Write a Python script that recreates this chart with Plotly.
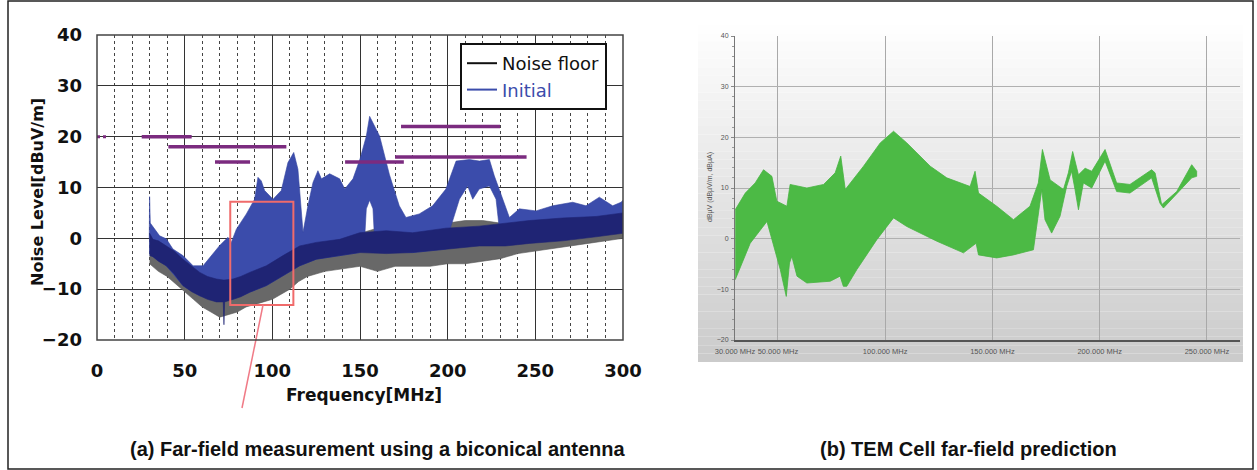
import plotly.graph_objects as go

# Noise floor (gray) envelope
NF_FREQ = [30, 35, 40, 45, 50, 55, 60, 65, 70, 75, 80, 85, 90, 95, 100, 105, 110, 115, 120,
           130, 140, 150, 160, 170, 180, 190, 200, 210, 220, 230, 240, 260, 280, 300]
NF_TOP = [0.5, -1, -2, -3, -4.5, -6, -7, -8, -8.5, -9, -8.5, -7.5, -6.5, -6, -5.5, -4.5, -3.5, -2, -1,
          -0.5, 0, 1, 2, 2.5, 2.5, 3, 3, 3.5, 3.5, 3, 2.5, 2.5, 3, 4]
NF_BOT = [-5, -6.5, -7.5, -9, -10.5, -12, -13.5, -14.5, -15.5, -15, -14.5, -13.5, -13, -12.5, -12, -11,
          -10, -8.5, -7.5, -6.5, -6, -5.5, -6.5, -5.5, -5.5, -5.5, -5, -5, -4.5, -4, -3, -2, -1, 0]

# Initial (blue) upper envelope
INIT_UP_FREQ = [29.8, 30.0, 30.4, 32.9, 35.7, 39.5, 43.3, 49, 54.8, 60.5, 65.2, 70, 74.7, 76.6, 79.5,
                85.2, 89.9, 91.8, 93.7, 95.6, 100.4, 105.1, 108.9, 112.2, 114.6, 117.5, 120.3, 123.2,
                126, 128, 132.7, 138.4, 141.3, 146, 150, 153.6, 155.5, 157.4, 161.2, 166.8, 172.4,
                176.2, 183.8, 191.4, 199, 204.8, 212.4, 218.1, 223.8, 226.6, 231.4, 235.2, 240.9,
                250.4, 259.9, 271.3, 278.9, 286.5, 294.1, 298.9, 300]
INIT_UP = [0, 8.2, 3, 1.8, 0.5, -0.1, -2.1, -3.4, -5.4, -5.4, -3.4, -1.4, 0.2, -0.8, 1.8,
           4.8, 7.7, 12.0, 11.3, 9.4, 7.7, 9.4, 14.9, 16.9, 13.6, 1.2, 6.4, 11.0,
           13.3, 11.7, 12.7, 11.7, 9.7, 11.7, 15.6, 20.1, 24.0, 22.8, 20.1, 12.5, 6.4,
           4.1, 4.8, 6.4, 9.7, 15.2, 15.5, 15.2, 15.5, 12.3, 7.7, 4.1, 5.8,
           5.4, 6.4, 7.1, 6.4, 8.1, 6.4, 7.1, 7.5]
# Initial (blue) lower envelope
INIT_LO_FREQ = [29.8, 31.9, 39.5, 49, 58.6, 68.1, 77.6, 87.1, 96.6, 106.1, 115.6, 125.1, 138.4, 149.8,
                152.5, 153.6, 155.5, 157.4, 158.5, 165, 180, 199, 202, 206.7, 211.4, 214.3, 218,
                223.8, 227.6, 229.5, 231, 246.6, 265.6, 284.6, 300]
INIT_LO = [-3, -3.6, -5.4, -9.3, -11.3, -12, -12, -10.6, -9.3, -7.4, -5.4, -4.1, -3.4, -2.8,
           -1, 5.8, 7.5, 5.8, -1.5, -2.5, -2.8, -2.1, 2.5, 7.7, 10.3, 7.7, 9.7,
           10.3, 7.7, 1.8, -1, -0.2, 0.5, 0.8, 1.2]
# Dense (dark) part of the Initial trace
DENSE_FREQ = [30.0, 31.9, 35, 39.5, 44, 49, 54, 58.6, 63, 68.1, 72, 72.4, 72.8, 77.6, 82, 87.1,
              96.6, 106.1, 115.6, 125.1, 138.4, 149.8, 165, 180, 199, 218, 233, 246.6, 265.6,
              284.6, 300]
DENSE_TOP = [1.0, -0.2, -0.5, -1.5, -2.5, -4.1, -5.5, -6.7, -7.5, -8, -8.2, -8.2, -8.2, -8, -7.5,
             -6.7, -5.4, -3.4, -1.5, -0.8, -0.2, 1.1, 1.5, 1.1, 2.0, 2.4, 3.0, 3.5, 4.0, 4.3, 5.0]
DENSE_BOT = [-3.4, -3.6, -4.5, -5.4, -7, -9.3, -10.5, -11.3, -12, -12.5, -12.5, -17, -12.5, -12,
             -11.5, -10.6, -9.3, -7.4, -5.4, -4.1, -3.4, -2.8, -3, -2.8, -2.1, -1.5, -1.5, -1.0,
             -0.5, 0.3, 1.0]

# Limit lines (purple)
LIMIT_START = [25.5, 40.7, 67.3, 141.5, 170, 173.4]
LIMIT_END = [54, 108, 87.3, 175, 245, 229.9]
LIMIT_LEVEL = [20, 18, 15, 15, 16, 22]

X_TICKS = [0, 50, 100, 150, 200, 250, 300]
Y_TICKS = [-20, -10, 0, 10, 20, 30, 40]

# ---------------- (b) TEM cell prediction (green envelope) ----------------
TEM_UP_FREQ = [30.1, 34.8, 39.4, 43.3, 47.2, 49.5, 54.2, 55.7, 63.5, 71.3, 76.7, 79.3, 81.4, 89.9,
               97.7, 103.9, 110.1, 121, 128.7, 139.6, 141.9, 143.5, 152, 159.8, 167.5, 171.4,
               173.3, 176.9, 183.1, 185.4, 187.4, 190.1, 193.2, 196.3, 202.5, 207.9, 214.1, 224.2,
               225.8, 228.9, 235.9, 242.9, 245.2]
TEM_UP = [5.7, 9.0, 11.0, 13.6, 12.3, 7.4, 6.4, 10.7, 10.0, 10.7, 13.0, 16.3, 9.7, 14.3,
          18.9, 21.2, 18.9, 14.3, 12.0, 10.3, 13.3, 9.0, 6.4, 3.75, 6.4, 11.0,
          17.6, 11.6, 9.7, 13.0, 17.2, 12.6, 13.9, 13.3, 17.6, 11.0, 10.7, 13.6,
          13.0, 6.7, 9.3, 14.6, 13.3]
TEM_LO_FREQ = [30.1, 37.1, 44.9, 51.1, 53.9, 55.4, 56.5, 58.9, 63.5, 74.4, 79.0, 80.5, 82.1, 86.8,
               96.1, 103.9, 110.1, 124.1, 136.5, 142.4, 143.5, 152, 159.8, 169.1, 173.0, 174.5,
               177.6, 181.5, 184.6, 186.9, 188.5, 190.1, 192.4, 196.3, 202.5, 207.9, 214.1, 224.2,
               228.1, 229.7, 242.9, 245.2]
TEM_LO = [-8.1, -0.9, 3.4, -6.1, -11.4, -4.8, -3.5, -7.4, -8.75, -8.4, -7.4, -9.4, -9.4, -6.1,
          -0.2, 4.1, 2.4, -0.5, -2.8, -0.9, -3.2, -3.8, -3.2, -2.2, 9.7, 3.75,
          1.1, 4.4, 10.3, 13.3, 9.7, 5.7, 11.0, 10.0, 15.3, 9.3, 9.0, 12.0,
          7.0, 6.05, 12.0, 12.3]
TEM_X_TICKS = [30, 50, 100, 150, 200, 250]
TEM_X_TEXT = ["30.000 MHz", "50.000 MHz", "100.000 MHz", "150.000 MHz", "200.000 MHz", "250.000 MHz"]

# ---------------------------------------------------------------------------
W, H = 1257, 470


def px(x):
    return x / W


def py(y):
    return 1 - y / H


def band(fx_up, up, fx_lo, lo):
    return list(fx_up) + list(fx_lo)[::-1], list(up) + list(lo)[::-1]


fig = go.Figure()

# noise floor
bx, by = band(NF_FREQ, NF_TOP, NF_FREQ, NF_BOT)
fig.add_trace(go.Scatter(x=bx, y=by, fill="toself", fillcolor="#686868", mode="lines",
                         line=dict(color="#585858", width=0.6), showlegend=False,
                         xaxis="x", yaxis="y", hoverinfo="skip"))
# initial
bx, by = band(INIT_UP_FREQ, INIT_UP, INIT_LO_FREQ, INIT_LO)
fig.add_trace(go.Scatter(x=bx, y=by, fill="toself", fillcolor="#3b4cab", mode="lines",
                         line=dict(color="#34449f", width=0.6), showlegend=False,
                         xaxis="x", yaxis="y", hoverinfo="skip"))
bx, by = band(DENSE_FREQ, DENSE_TOP, DENSE_FREQ, DENSE_BOT)
fig.add_trace(go.Scatter(x=bx, y=by, fill="toself", fillcolor="#1f2474", mode="lines",
                         line=dict(color="#1f2474", width=0.6), showlegend=False,
                         xaxis="x", yaxis="y", hoverinfo="skip"))
# limit lines
for s, e, lv in zip(LIMIT_START, LIMIT_END, LIMIT_LEVEL):
    fig.add_trace(go.Scatter(x=[s, e], y=[lv, lv], mode="lines",
                             line=dict(color="#7b2b7f", width=3.5), showlegend=False,
                             xaxis="x", yaxis="y", hoverinfo="skip"))
fig.add_trace(go.Scatter(x=[0, 6.5], y=[20, 20], mode="lines",
                         line=dict(color="#7b2b7f", width=3, dash="dot"), showlegend=False,
                         xaxis="x", yaxis="y", hoverinfo="skip"))

# green TEM prediction
bx, by = band(TEM_UP_FREQ, TEM_UP, TEM_LO_FREQ, TEM_LO)
fig.add_trace(go.Scatter(x=bx, y=by, fill="toself", fillcolor="#4cba45", mode="lines",
                         line=dict(color="#48b441", width=0.8), showlegend=False,
                         xaxis="x2", yaxis="y2", hoverinfo="skip"))

# legend entries
fig.add_trace(go.Scatter(x=[None], y=[None], mode="lines", name="Noise floor",
                         line=dict(color="#111111", width=2), xaxis="x", yaxis="y"))
fig.add_trace(go.Scatter(x=[None], y=[None], mode="lines",
                         name="<span style='color:#3b4cab'>Initial</span>",
                         line=dict(color="#3b4cab", width=2), xaxis="x", yaxis="y"))

shapes = []
# gradient panel for (b)
top_y, bot_y = 25, 362
n = 40
for i in range(n):
    y0 = top_y + (bot_y - top_y) * i / n
    y1 = top_y + (bot_y - top_y) * (i + 1) / n
    t = (i + 0.5) / n
    g = int(255 - 52 * t)
    shapes.append(dict(type="rect", xref="paper", yref="paper", x0=px(698), x1=px(1243),
                       y0=py(y1), y1=py(y0), fillcolor=f"rgb({g},{g},{g})",
                       line=dict(width=0), layer="below"))
# red highlight box + pointer
shapes.append(dict(type="rect", xref="x", yref="y", x0=76, x1=112, y0=-13.1, y1=7.2,
                   line=dict(color="#f06b6b", width=2), layer="above"))
shapes.append(dict(type="line", xref="paper", yref="paper", x0=px(263), y0=py(305),
                   x1=px(242), y1=py(408), line=dict(color="#f07a86", width=1.5)))
# outer frame
shapes.append(dict(type="rect", xref="paper", yref="paper", x0=px(8), x1=px(1253),
                   y0=py(469), y1=py(1), line=dict(color="#222", width=1.5), layer="above"))
# plot frame of (a)
shapes.append(dict(type="rect", xref="x domain", yref="y domain", x0=0, x1=1, y0=0, y1=1,
                   line=dict(color="#444", width=1.5), layer="above"))

ann_common = dict(xref="paper", yref="paper", showarrow=False, xanchor="center", yanchor="middle")
annotations = [
    dict(text="Noise Level[dBuV/m]", x=px(38), y=py(192), textangle=-90,
         font=dict(family="DejaVu Sans", size=16, color="#111", weight="bold"), **ann_common),
    dict(text="Frequency[MHz]", x=px(364), y=py(395),
         font=dict(family="DejaVu Sans", size=17, color="#111", weight="bold"), **ann_common),
    dict(text="dBµV (dBµV/m, dBµA)", x=px(710), y=py(187), textangle=-90,
         font=dict(family="Liberation Sans", size=7, color="#555"), **ann_common),
    dict(text="(a) Far-field measurement using a biconical antenna", x=px(377), y=py(449),
         font=dict(family="Liberation Sans", size=20, color="#111", weight="bold"), **ann_common),
    dict(text="(b) TEM Cell far-field prediction", x=px(968), y=py(449),
         font=dict(family="Liberation Sans", size=20, color="#111", weight="bold"), **ann_common),
]

fig.update_layout(
    width=W, height=H, margin=dict(l=0, r=0, t=0, b=0, pad=0, autoexpand=False),
    paper_bgcolor="white", plot_bgcolor="rgba(0,0,0,0)",
    shapes=shapes, annotations=annotations,
    legend=dict(x=px(460), y=py(43), xanchor="left", yanchor="top",
                bgcolor="white", bordercolor="#111", borderwidth=2,
                font=dict(family="DejaVu Sans", size=18, color="#111"),
                tracegroupgap=0, itemwidth=30),
    xaxis=dict(domain=[px(97), px(623)], range=[0, 300], tickvals=X_TICKS,
               showgrid=True, gridcolor="#333", gridwidth=1,
               minor=dict(dtick=10, showgrid=True, gridcolor="#444", griddash="dot", gridwidth=1),
               zeroline=False, showline=False, ticks="", automargin=False,
               tickfont=dict(family="DejaVu Sans", size=18, color="#111", weight="bold"),
               ticklabelstandoff=18),
    yaxis=dict(domain=[py(340), py(35)], range=[-20, 40], tickvals=Y_TICKS,
               showgrid=True, gridcolor="#333", gridwidth=1, zeroline=False, showline=False,
               ticks="", automargin=False,
               tickfont=dict(family="DejaVu Sans", size=18, color="#111", weight="bold"),
               ticklabelstandoff=14),
    xaxis2=dict(domain=[px(735), px(1240)], range=[30, 265.4], tickvals=TEM_X_TICKS,
                ticktext=TEM_X_TEXT, anchor="y2", showgrid=True, gridcolor="#a9a9a9",
                gridwidth=1, zeroline=False, showline=True, linecolor="#555", linewidth=2,
                ticks="", tickangle=0, automargin=False,
                tickfont=dict(family="Liberation Sans", size=7.5, color="#555"),
                ticklabelstandoff=3),
    yaxis2=dict(domain=[py(340), py(36)], range=[-20, 40], tickvals=Y_TICKS, anchor="x2",
                showgrid=True, gridcolor="#b0b0b0", gridwidth=1, zeroline=False,
                showline=True, linecolor="#777", linewidth=1, ticks="outside", ticklen=3,
                tickcolor="#888", minor=dict(dtick=2, ticks="outside", ticklen=2, tickcolor="#999"),
                tickfont=dict(family="Liberation Sans", size=7, color="#555"),
                ticklabelstandoff=1, automargin=False),
)

fig.write_html("out.html")
